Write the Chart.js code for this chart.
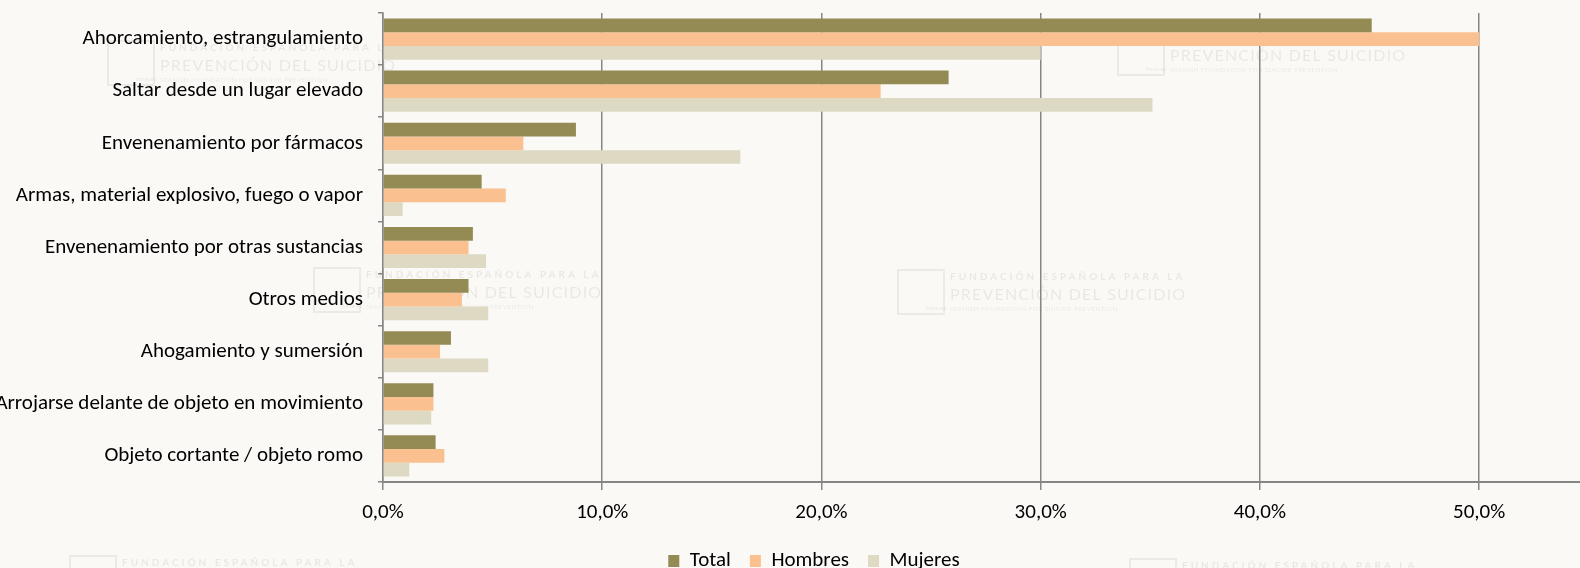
<!DOCTYPE html>
<html>
<head>
<meta charset="utf-8">
<script src="https://cdn.jsdelivr.net/npm/chart.js@4.4.1/dist/chart.umd.min.js"></script>
<style>
  html, body { margin: 0; padding: 0; background: #faf9f6; }
  #wrap { width: 1580px; height: 568px; }
</style>
</head>
<body>
<div id="wrap"><canvas id="myChart" width="1580" height="568"></canvas></div>
<script>
const categories = [
  "Ahorcamiento, estrangulamiento",
  "Saltar desde un lugar elevado",
  "Envenenamiento por fármacos",
  "Armas, material explosivo, fuego o vapor",
  "Envenenamiento por otras sustancias",
  "Otros medios",
  "Ahogamiento y sumersión",
  "Arrojarse delante de objeto en movimiento",
  "Objeto cortante / objeto romo"
];
const total   = [45.1, 25.8, 8.8, 4.5, 4.1, 3.9, 3.1, 2.3, 2.4];
const hombres = [50.0, 22.7, 6.4, 5.6, 3.9, 3.6, 2.6, 2.3, 2.8];
const mujeres = [30.0, 35.1, 16.3, 0.9, 4.7, 4.8, 4.8, 2.2, 1.2];
const xTicks  = [0, 10, 20, 30, 40, 50];

const FONT = "Carlito, Lato, 'Open Sans', sans-serif";
const GRID = "#868686";

// faint watermark logos behind the plot
const marks = [
  { x: 108, y: 41 }, { x: 1118, y: 31 }, { x: 314, y: 268 },
  { x: 898, y: 270 }, { x: 1130, y: 559 }, { x: 70, y: 556 }
];
const watermark = {
  id: "watermark",
  afterLayout(chart) {
    // legend in the original sits a bit right of centre
    chart.legend.left += 24;
    chart.legend.right += 24;
  },
  beforeDraw(chart) {
    const ctx = chart.ctx;
    ctx.save();
    ctx.fillStyle = "#faf9f6";
    ctx.fillRect(0, 0, chart.width, chart.height);
    ctx.strokeStyle = "rgba(0,0,0,0.06)";
    ctx.fillStyle = "rgba(0,0,0,0.07)";
    ctx.lineWidth = 2;
    marks.forEach(m => {
      ctx.strokeRect(m.x, m.y, 46, 44);
      ctx.textBaseline = "middle";
      ctx.textAlign = "left";
      ctx.font = "600 6px Lato";
      ctx.fillText("fsme.es", m.x + 28, m.y + 38);
      ctx.font = "bold 10px Lato";
      ctx.letterSpacing = "3px";
      ctx.fillText("FUNDACIÓN ESPAÑOLA PARA LA", m.x + 52, m.y + 7);
      ctx.font = "16px Lato";
      ctx.letterSpacing = "1.2px";
      ctx.fillText("PREVENCIÓN DEL SUICIDIO", m.x + 52, m.y + 25);
      ctx.font = "6px Lato";
      ctx.letterSpacing = "0.6px";
      ctx.fillText("SPANISH FOUNDATION FOR SUICIDE PREVENTION", m.x + 52, m.y + 39);
      ctx.letterSpacing = "0px";
    });
    ctx.restore();
  }
};

const ctx = document.getElementById("myChart");
new Chart(ctx, {
  type: "bar",
  data: {
    labels: categories,
    datasets: [
      { label: "Total", data: total, backgroundColor: "#948a54" },
      { label: "Hombres", data: hombres, backgroundColor: "#fac090" },
      { label: "Mujeres", data: mujeres, backgroundColor: "#ddd9c3" }
    ]
  },
  options: {
    indexAxis: "y",
    responsive: false,
    animation: false,
    devicePixelRatio: 1,
    categoryPercentage: 0.79,
    barPercentage: 1.0,
    layout: { padding: { top: 13, left: 0, right: 0, bottom: -13.5 } },
    scales: {
      x: {
        min: 0,
        max: 54.6,
        afterBuildTicks(scale) {
          scale.ticks = xTicks.map(v => ({ value: v }));
        },
        afterFit(scale) { scale.height = 49.5; },
        ticks: {
          color: "#000",
          font: { family: FONT, size: 21 },
          padding: 10,
          callback: v => v.toFixed(1).replace(".", ",") + "%"
        },
        grid: { color: GRID, lineWidth: 1.5, tickLength: 8 },
        border: { color: GRID, width: 2 }
      },
      y: {
        afterFit(scale) {
          scale.width = 383;
          scale.paddingTop = 0;
          scale.paddingBottom = 0;
        },
        ticks: {
          color: "#000",
          font: { family: FONT, size: 21 },
          padding: 15,
          autoSkip: false
        },
        grid: { drawOnChartArea: false, offset: true, color: GRID, lineWidth: 1.5, tickLength: 5 },
        border: { color: GRID, width: 1.5 }
      }
    },
    plugins: {
      legend: {
        position: "bottom",
        labels: {
          color: "#000",
          font: { family: FONT, size: 21 },
          boxWidth: 11,
          boxHeight: 12,
          padding: 19
        }
      },
      tooltip: { enabled: false }
    }
  },
  plugins: [watermark]
});
</script>
</body>
</html>
